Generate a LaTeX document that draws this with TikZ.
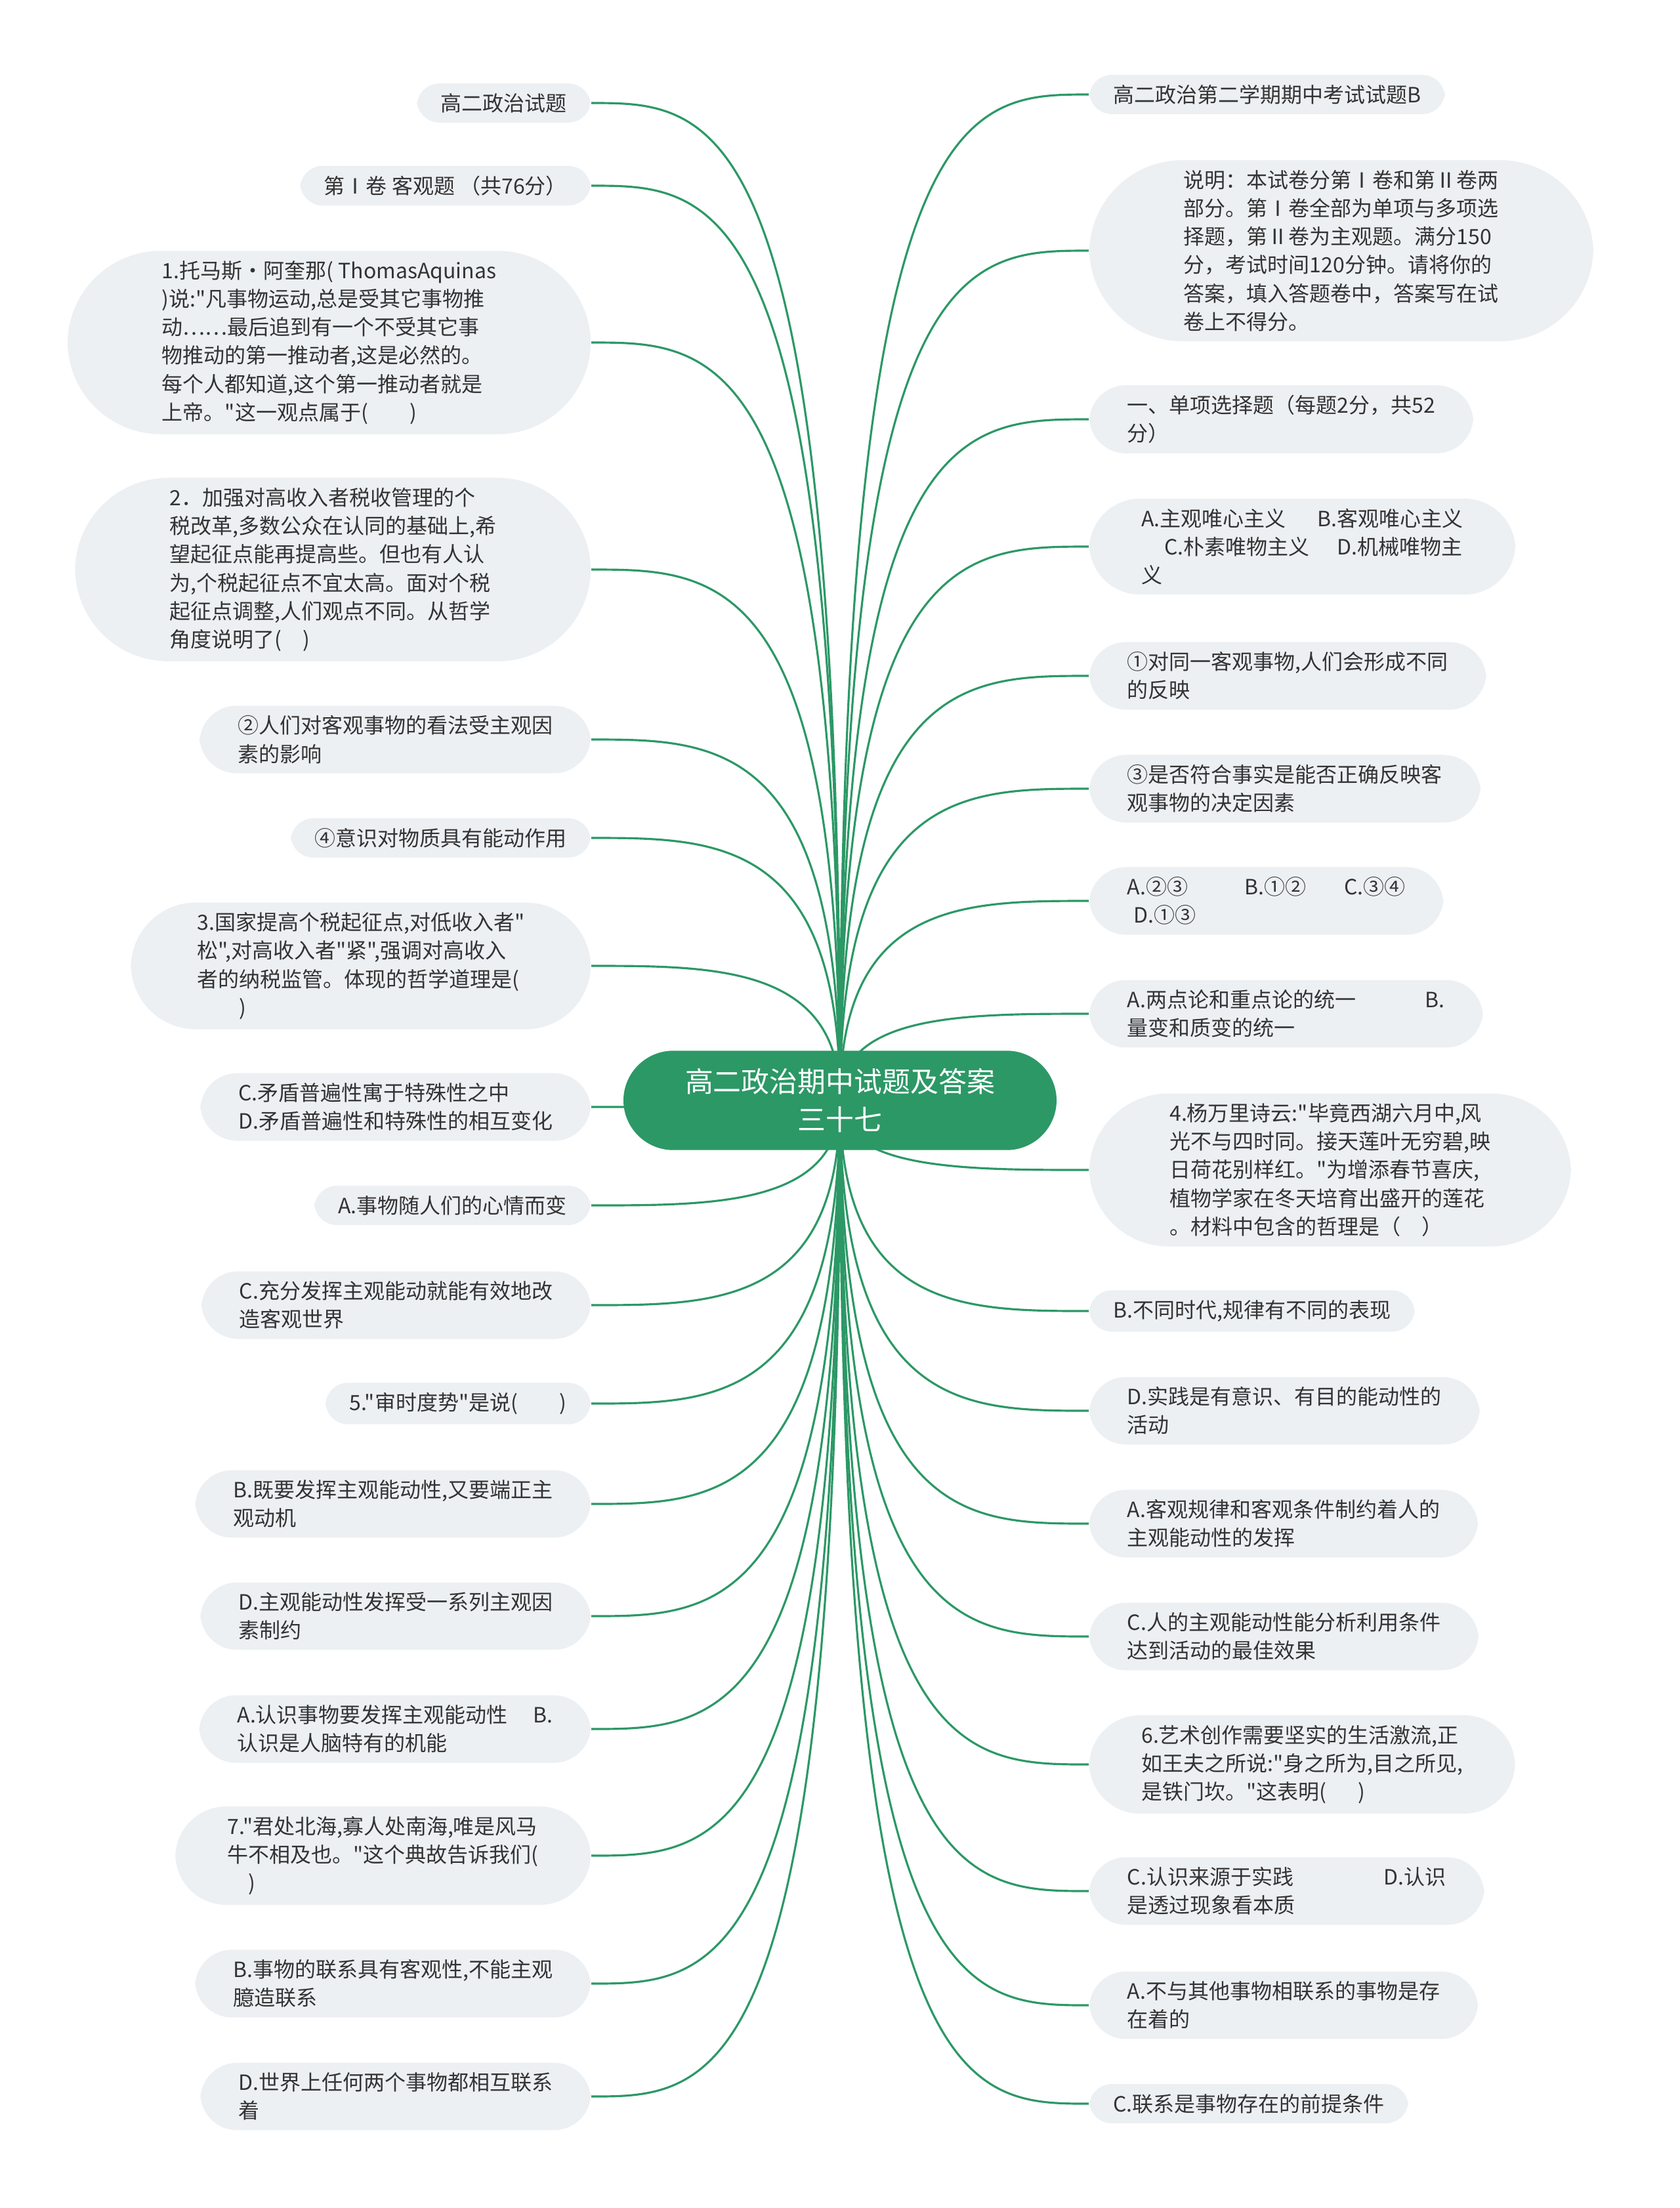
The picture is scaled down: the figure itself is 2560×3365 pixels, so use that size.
\documentclass[tikz,border=0pt]{standalone}
\usepackage{fontspec}
\setmainfont{Noto Sans CJK SC}[Ligatures=TeXOff]
\usetikzlibrary{calc}

\definecolor{topicgreen}{RGB}{44,152,102}
\definecolor{leafgray}{RGB}{236,240,243}
\definecolor{textgray}{RGB}{51,51,51}

\pgfdeclarelayer{bg}
\pgfsetlayers{bg,main}

\tikzset{
  topic/.style={rectangle, rounded corners=0.76cm, fill=topicgreen, text=white,
    font=\fontsize{12.2pt}{16.4pt}\selectfont, align=center,
    inner xsep=0.94cm, inner ysep=0.27cm},
  leaf/.style={rectangle, rounded corners={#1*0.215cm+0.13cm}, fill=leafgray,
    text=textgray, font=\fontsize{9.1pt}{12.3pt}\selectfont, align=left,
    inner xsep={#1*0.215cm+0.15cm}, inner ysep=0.15cm},
  leaf/.default=1,
  lleaf/.style={leaf=#1, anchor=east},
  lleaf/.default=1,
  rleaf/.style={leaf=#1, anchor=west},
  rleaf/.default=1,
  branch/.style={draw=topicgreen, line width=0.9pt}
}

\begin{document}
\begin{tikzpicture}[x=0.01cm, y=-0.01cm]
  \useasboundingbox (0,0) rectangle (2560,3365);

  \node[topic] (root) at (1280,1677) {高二政治期中试题及答案\\三十七};

  % left side
  \node[lleaf] (l1) at (901,157) {高二政治试题};
  \node[lleaf] (l2) at (901,283) {第Ⅰ卷 客观题 （共76分）};
  \node[lleaf=6] (l3) at (901,522) {1.托马斯·阿奎那( ThomasAquinas\\)说:"凡事物运动,总是受其它事物推\\动……最后追到有一个不受其它事\\物推动的第一推动者,这是必然的。\\每个人都知道,这个第一推动者就是\\上帝。"这一观点属于(\hspace{2em})};
  \node[lleaf=6] (l4) at (901,868) {2．加强对高收入者税收管理的个\\税改革,多数公众在认同的基础上,希\\望起征点能再提高些。但也有人认\\为,个税起征点不宜太高。面对个税\\起征点调整,人们观点不同。从哲学\\角度说明了(\hspace{1em})};
  \node[lleaf=2] (l5) at (901,1127) {②人们对客观事物的看法受主观因\\素的影响};
  \node[lleaf] (l6) at (901,1277) {④意识对物质具有能动作用};
  \node[lleaf=4] (l7) at (901,1472) {3.国家提高个税起征点,对低收入者"\\松",对高收入者"紧",强调对高收入\\者的纳税监管。体现的哲学道理是(\\\hspace*{2em})};
  \node[lleaf=2] (l8) at (901,1687) {C.矛盾普遍性寓于特殊性之中\\D.矛盾普遍性和特殊性的相互变化};
  \node[lleaf] (l9) at (901,1837) {A.事物随人们的心情而变};
  \node[lleaf=2] (l10) at (901,1989) {C.充分发挥主观能动就能有效地改\\造客观世界};
  \node[lleaf] (l11) at (901,2139) {5."审时度势"是说(\hspace{2em})};
  \node[lleaf=2] (l12) at (901,2292) {B.既要发挥主观能动性,又要端正主\\观动机};
  \node[lleaf=2] (l13) at (901,2463) {D.主观能动性发挥受一系列主观因\\素制约};
  \node[lleaf=2] (l14) at (901,2635) {A.认识事物要发挥主观能动性\hspace{1.2em}B.\\认识是人脑特有的机能};
  \node[lleaf=3] (l15) at (901,2828) {7."君处北海,寡人处南海,唯是风马\\牛不相及也。"这个典故告诉我们(\\\hspace*{1em})};
  \node[lleaf=2] (l16) at (901,3023) {B.事物的联系具有客观性,不能主观\\臆造联系};
  \node[lleaf=2] (l17) at (901,3195) {D.世界上任何两个事物都相互联系\\着};

  % right side
  \node[rleaf] (r1) at (1659,144) {高二政治第二学期期中考试试题B};
  \node[rleaf=6] (r2) at (1659,382) {说明：本试卷分第Ⅰ卷和第Ⅱ卷两\\部分。第Ⅰ卷全部为单项与多项选\\择题，第Ⅱ卷为主观题。满分150\\分，考试时间120分钟。请将你的\\答案，填入答题卷中，答案写在试\\卷上不得分。};
  \node[rleaf=2] (r3) at (1659,639) {一、单项选择题（每题2分，共52\\分）};
  \node[rleaf=3] (r4) at (1659,833) {A.主观唯心主义\hspace{1.5em}B.客观唯心主义\\\hspace*{1.1em}C.朴素唯物主义\hspace{1.3em}D.机械唯物主\\义};
  \node[rleaf=2] (r5) at (1659,1030) {①对同一客观事物,人们会形成不同\\的反映};
  \node[rleaf=2] (r6) at (1659,1202) {③是否符合事实是能否正确反映客\\观事物的决定因素};
  \node[rleaf=2] (r7) at (1659,1373) {A.②③\hspace{2.7em}B.①②\hspace{1.8em}C.③④\\\hspace*{0.3em}D.①③};
  \node[rleaf=2] (r8) at (1659,1545) {A.两点论和重点论的统一\hspace{3.3em}B.\\量变和质变的统一};
  \node[rleaf=5] (r9) at (1659,1783) {4.杨万里诗云:"毕竟西湖六月中,风\\光不与四时同。接天莲叶无穷碧,映\\日荷花别样红。"为增添春节喜庆,\\植物学家在冬天培育出盛开的莲花\\。材料中包含的哲理是（\hspace{1em}）};
  \node[rleaf] (r10) at (1659,1998) {B.不同时代,规律有不同的表现};
  \node[rleaf=2] (r11) at (1659,2150) {D.实践是有意识、有目的能动性的\\活动};
  \node[rleaf=2] (r12) at (1659,2322) {A.客观规律和客观条件制约着人的\\主观能动性的发挥};
  \node[rleaf=2] (r13) at (1659,2494) {C.人的主观能动性能分析利用条件\\达到活动的最佳效果};
  \node[rleaf=3] (r14) at (1659,2689) {6.艺术创作需要坚实的生活激流,正\\如王夫之所说:"身之所为,目之所见,\\是铁门坎。"这表明(\hspace{1.5em})};
  \node[rleaf=2] (r15) at (1659,2882) {C.认识来源于实践\hspace{4.3em}D.认识\\是透过现象看本质};
  \node[rleaf=2] (r16) at (1659,3056) {A.不与其他事物相联系的事物是存\\在着的};
  \node[rleaf] (r17) at (1659,3206) {C.联系是事物存在的前提条件};

  \begin{pgfonlayer}{bg}
    \foreach \n in {l1,l2,l3,l4,l5,l6,l7,l8,l9,l10,l11,l12,l13,l14,l15,l16,l17}
      \draw[branch] (root.center) .. controls (root.center |- \n.east)
        and ($(root.center |- \n.east)!0.5!(\n.east)$) .. (\n.east);
    \foreach \n in {r1,r2,r3,r4,r5,r6,r7,r8,r9,r10,r11,r12,r13,r14,r15,r16,r17}
      \draw[branch] (root.center) .. controls (root.center |- \n.west)
        and ($(root.center |- \n.west)!0.5!(\n.west)$) .. (\n.west);
  \end{pgfonlayer}
\end{tikzpicture}
\end{document}
